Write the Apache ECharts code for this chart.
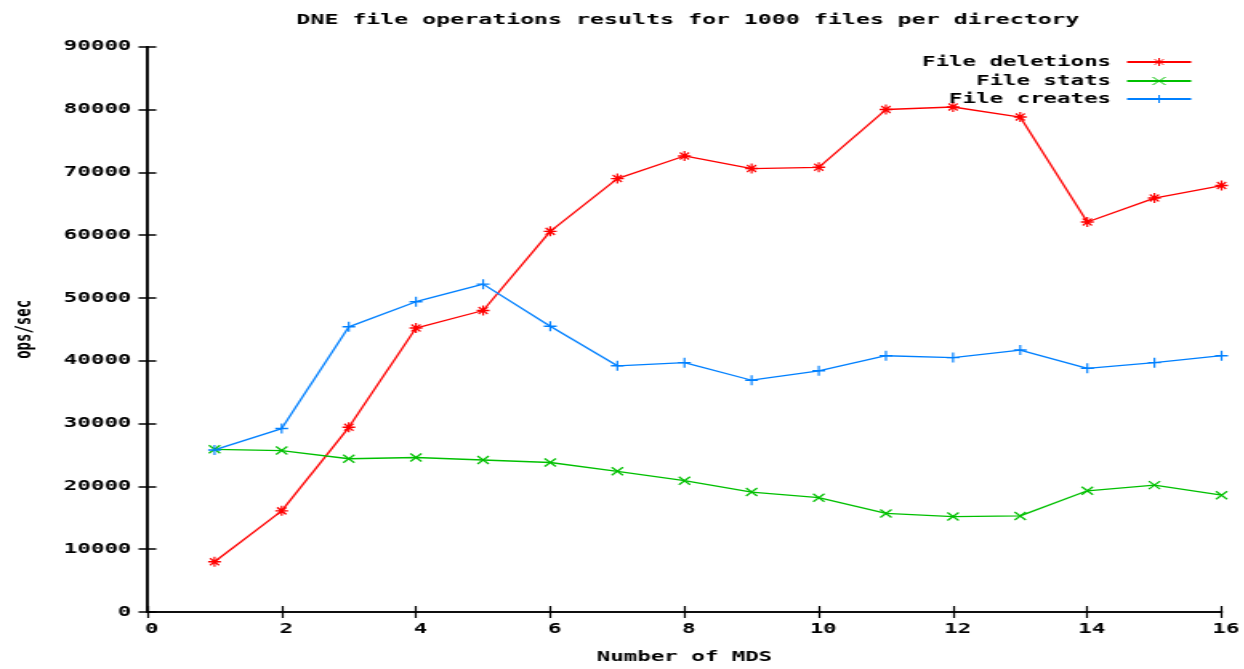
<!DOCTYPE html>
<html>
<head>
<meta charset="utf-8">
<script src="https://cdn.jsdelivr.net/npm/echarts@6/dist/echarts.min.js"></script>
<style>
html,body{margin:0;padding:0;background:#fff;overflow:hidden;}
#wrap{width:1244px;height:669px;overflow:hidden;}
#chart{width:777.5px;height:669px;transform:scaleX(1.6);transform-origin:0 0;}
</style>
</head>
<body>
<div id="wrap"><div id="chart"></div></div>
<script>
const titleText = 'DNE file operations results for 1000 files per directory';
const xLabel = 'Number of MDS';
const yLabel = 'ops/sec';
const seriesNames = ['File deletions', 'File stats', 'File creates'];
const mdsCounts = [1, 2, 3, 4, 5, 6, 7, 8, 9, 10, 11, 12, 13, 14, 15, 16];
const fileDeletions = [8000, 16100, 29400, 45200, 48000, 60600, 69000, 72600, 70600, 70800, 80000, 80400, 78800, 62100, 65900, 67900];
const fileStats = [25900, 25700, 24400, 24600, 24200, 23800, 22400, 20900, 19100, 18200, 15700, 15200, 15300, 19300, 20200, 18600];
const fileCreates = [25800, 29200, 45400, 49400, 52200, 45500, 39200, 39700, 36900, 38400, 40800, 40500, 41700, 38800, 39700, 40800];

const FONT = 'DejaVu Sans Mono';
const colors = ['#ff0000', '#00c000', '#0080ff'];
const symbols = [
  'path://M5,0 L5,10 M0,5 L10,5 M1.5,1.5 L8.5,8.5 M8.5,1.5 L1.5,8.5',
  'path://M0,0 L10,10 M10,0 L0,10',
  'path://M5,0 L5,10 M0,5 L10,5'
];
const symbolSizes = [[8, 10], [7, 8], [8, 10]];
const valueSets = [fileDeletions, fileStats, fileCreates];

const chart = echarts.init(document.getElementById('chart'), null, {width: 777.5, height: 669});

const axisCommon = {
  type: 'value',
  axisLine: {show: true, lineStyle: {color: '#000', width: 1.5}},
  splitLine: {show: false},
};

const legends = seriesNames.map((n, i) => ({
  data: [n],
  right: 28,
  top: [50, 69, 87][i],
  align: 'right',
  itemWidth: 40,
  itemHeight: 10,
  itemGap: 0,
  itemStyle: {borderWidth: 1},
  textStyle: {fontFamily: FONT, fontWeight: 'bold', fontSize: 14, color: '#000', padding: [0, 5, 0, 0]},
  selectedMode: false
}));

chart.setOption({
  animation: false,
  backgroundColor: '#fff',
  title: {
    text: titleText,
    left: 424.4,
    top: 8,
    textAlign: 'center',
    textStyle: {fontFamily: FONT, fontWeight: 'bold', fontSize: 14.5, color: '#000'}
  },
  legend: legends,
  grid: {left: 86.25, right: 15, top: 46.7, bottom: 53, containLabel: false},
  xAxis: [
    Object.assign({}, axisCommon, {
      min: 0, max: 16, interval: 2, position: 'bottom',
      name: xLabel, nameLocation: 'middle', nameGap: 38,
      nameTextStyle: {fontFamily: FONT, fontWeight: 'bold', fontSize: 14, color: '#000'},
      axisTick: {show: true, inside: true, length: 6, lineStyle: {color: '#000', width: 1.2}},
      axisLabel: {fontFamily: FONT, fontWeight: 'bold', fontSize: 14, color: '#000', margin: 10, padding: [0, 0, 0, 5.6], formatter: v => String(v)}
    }),
    Object.assign({}, axisCommon, {
      min: 0, max: 16, interval: 2, position: 'top',
      axisTick: {show: true, inside: true, length: 6, lineStyle: {color: '#000', width: 1.2}},
      axisLabel: {show: false}
    })
  ],
  yAxis: [
    Object.assign({}, axisCommon, {
      min: 0, max: 90000, interval: 10000, position: 'left',
      name: yLabel, nameLocation: 'middle', nameGap: 70, nameRotate: 90,
      nameTextStyle: {fontFamily: FONT, fontWeight: 'bold', fontSize: 14, color: '#000'},
      axisTick: {show: true, inside: true, length: 5.5, lineStyle: {color: '#000', width: 1.5}},
      axisLabel: {fontFamily: FONT, fontWeight: 'bold', fontSize: 14, color: '#000', margin: 10, formatter: v => String(v)}
    }),
    Object.assign({}, axisCommon, {
      min: 0, max: 90000, interval: 10000, position: 'right',
      axisTick: {show: true, inside: true, length: 5.5, lineStyle: {color: '#000', width: 1.5}},
      axisLabel: {show: false}
    })
  ],
  series: seriesNames.map((n, i) => ({
    name: n,
    type: 'line',
    xAxisIndex: 0,
    yAxisIndex: 0,
    data: mdsCounts.map((x, j) => [x, valueSets[i][j]]),
    symbol: symbols[i],
    symbolSize: symbolSizes[i],
    showSymbol: true,
    lineStyle: {color: colors[i], width: 1.3},
    itemStyle: {color: colors[i], borderColor: colors[i], borderWidth: 1.3},
    emphasis: {disabled: true}
  }))
});
</script>
</body>
</html>
